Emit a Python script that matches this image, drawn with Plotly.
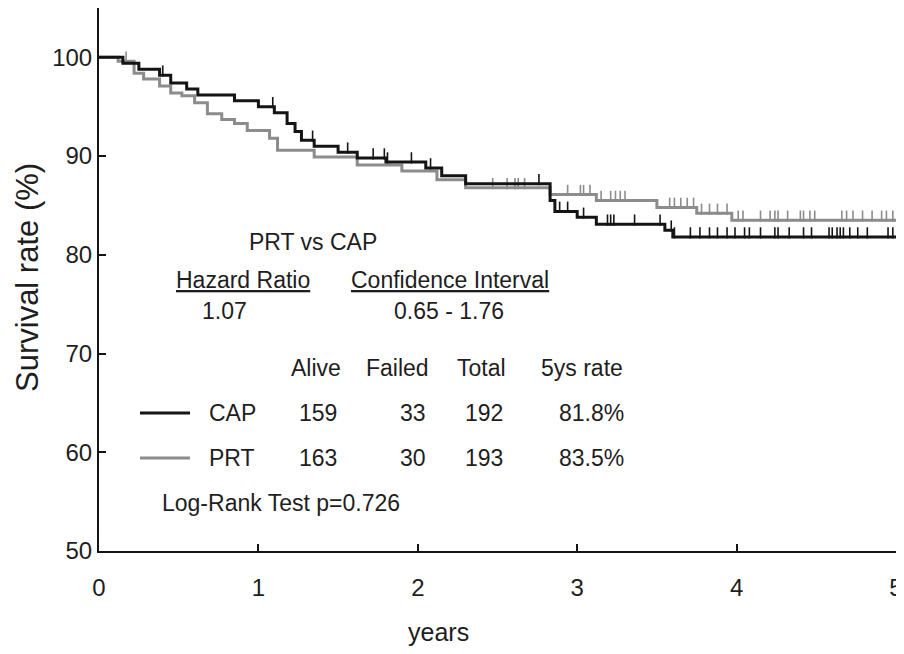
import numpy as np
import plotly.graph_objects as go

# ---------------- data ----------------
# Kaplan-Meier step curves (time in years, survival %)
cap_times = [0.00, 0.15, 0.25, 0.38, 0.45, 0.55, 0.62, 0.85, 1.00, 1.10, 1.18, 1.23, 1.27, 1.35,
             1.50, 1.62, 1.80, 2.05, 2.15, 2.30, 2.83, 2.86, 3.00, 3.12, 3.55, 3.60, 5.00]
cap_surv = [100.0, 99.4, 98.8, 98.2, 97.4, 96.8, 96.2, 95.6, 95.0, 94.4, 93.3, 92.5, 91.6, 91.0,
            90.4, 89.8, 89.4, 88.8, 88.0, 87.2, 85.5, 84.4, 83.8, 83.1, 82.5, 81.8, 81.8]

prt_times = [0.00, 0.12, 0.22, 0.28, 0.38, 0.45, 0.52, 0.60, 0.68, 0.77, 0.85, 0.93, 1.07, 1.12,
             1.35, 1.62, 1.90, 2.12, 2.30, 2.83, 3.12, 3.50, 3.75, 3.97, 5.00]
prt_surv = [100.0, 99.6, 98.4, 97.8, 97.1, 96.4, 96.1, 95.4, 94.3, 93.7, 93.3, 92.6, 91.8, 90.6,
            89.9, 89.1, 88.5, 87.6, 86.8, 86.1, 85.5, 84.8, 84.2, 83.5, 83.5]

# censoring times (years)
cap_censor = [0.40, 1.09, 1.34, 1.56, 1.72, 1.79, 1.81, 1.96, 2.08, 2.76, 2.89, 2.94, 3.04,
              3.19, 3.21, 3.23, 3.36, 3.52, 3.59, 3.61, 3.71, 3.77, 3.83, 3.88, 3.94, 3.99,
              4.05, 4.08, 4.15, 4.24, 4.26, 4.33, 4.42, 4.47, 4.58, 4.60, 4.63, 4.65, 4.67,
              4.71, 4.76, 4.82, 4.95, 4.98]
prt_censor = [0.17, 2.47, 2.56, 2.61, 2.63, 2.67, 2.94, 3.02, 3.04, 3.08, 3.15, 3.21, 3.24,
              3.27, 3.30, 3.58, 3.61, 3.65, 3.69, 3.73, 3.78, 3.83, 3.88, 3.94, 4.01, 4.04,
              4.15, 4.21, 4.24, 4.26, 4.32, 4.40, 4.42, 4.46, 4.49, 4.66, 4.69, 4.73, 4.79,
              4.85, 4.91, 4.94, 4.98]

x_ticks = [0, 1, 2, 3, 4, 5]
y_ticks = [50, 60, 70, 80, 90, 100]

# summary table
hazard_ratio = "1.07"
conf_interval = "0.65 - 1.76"
table_header = ["Alive", "Failed", "Total", "5ys rate"]
groups = ["CAP", "PRT"]
alive = [159, 163]
failed = [33, 30]
total = [192, 193]
rate5 = ["81.8%", "83.5%"]
logrank = "Log-Rank Test p=0.726"

# ---------------- styling ----------------
BLACK = "#141414"
GRAY = "#8c8c8c"
FONT = "Liberation Sans, Arial, Helvetica, sans-serif"
TXT = "#1e1e1e"

# the page body has an 8px margin, so the figure starts at (8, 8) in the window;
# keep the page from overflowing the window (no scrollbars)
OFF = 8
W, H = 904 - OFF, 654 - 2 * OFF
# plot area in window pixels: x 99..896, y 8..551
L, R, T, B = 99 - OFF, 904 - 896, 8 - OFF, (H + OFF) - 551
PW, PH = W - L - R, H - T - B


def px(x):  # window pixel -> paper x
    return (x - OFF - L) / PW


def py(y):  # window pixel -> paper y
    return (H - B - (y - OFF)) / PH


def step_value(times, surv, t):
    i = np.searchsorted(np.asarray(times), t, side="right") - 1
    return np.asarray(surv)[i]


fig = go.Figure()

for times, surv, cens, col in [(prt_times, prt_surv, prt_censor, GRAY),
                               (cap_times, cap_surv, cap_censor, BLACK)]:
    fig.add_trace(go.Scatter(x=times, y=surv, mode="lines", line_shape="hv",
                             line=dict(color=col, width=3), showlegend=False,
                             hoverinfo="skip"))
    cy = [step_value(times, surv, t) + 0.42 for t in cens]
    fig.add_trace(go.Scatter(x=cens, y=cy, mode="markers",
                             marker=dict(symbol="line-ns", size=8,
                                         line=dict(color=col, width=1.6)),
                             showlegend=False, hoverinfo="skip"))

annos = []


def txt(text, x, y, xanchor="center", size=23):
    annos.append(dict(text=text, x=px(x), y=py(y), xref="paper", yref="paper",
                      xanchor=xanchor, yanchor="middle", showarrow=False,
                      font=dict(family=FONT, size=size, color=TXT)))


txt("PRT vs CAP", 313, 242)
txt("<u>Hazard Ratio</u>", 243, 280)
txt("<u>Confidence Interval</u>", 450, 280)
txt(hazard_ratio, 224, 311)
txt(conf_interval, 449, 311)

hx = [316, 397, 481, 582]
for h, x in zip(table_header, hx):
    txt(h, x, 368)

rows_y = [413, 458]
for i, g in enumerate(groups):
    y = rows_y[i]
    txt(g, 207, y, xanchor="left")
    txt(str(alive[i]), 318, y)
    txt(str(failed[i]), 428, y, xanchor="right")
    txt(str(total[i]), 484, y)
    txt(rate5[i], 626, y, xanchor="right")

txt(logrank, 160, 503, xanchor="left")

# axis titles
annos.append(dict(text="years", x=px(438), y=py(632), xref="paper", yref="paper",
                  showarrow=False, xanchor="center", yanchor="middle",
                  font=dict(family=FONT, size=25, color=TXT)))
annos.append(dict(text="Survival rate (%)", x=px(27), y=py(278), xref="paper", yref="paper",
                  showarrow=False, xanchor="center", yanchor="middle", textangle=-90,
                  font=dict(family=FONT, size=31, color=TXT)))

shapes = []
for i, col in enumerate([BLACK, GRAY]):
    shapes.append(dict(type="line", xref="paper", yref="paper",
                       x0=px(140), x1=px(190), y0=py(rows_y[i]), y1=py(rows_y[i]),
                       line=dict(color=col, width=3)))

fig.update_layout(
    width=W, height=H,
    margin=dict(l=L, r=R, t=T, b=B, pad=0),
    paper_bgcolor="white", plot_bgcolor="white",
    annotations=annos, shapes=shapes,
    font=dict(family=FONT, color=TXT),
    xaxis=dict(range=[0, 5], tickvals=x_ticks, ticktext=[str(v) for v in x_ticks],
               ticks="inside", ticklen=7, tickwidth=2, tickcolor=BLACK,
               showline=True, linewidth=2, linecolor=BLACK, mirror=False,
               showgrid=False, zeroline=False, ticklabelstandoff=14,
               ticklabeloverflow="allow",
               tickfont=dict(family=FONT, size=24, color=TXT)),
    yaxis=dict(range=[50, 105], tickvals=y_ticks, ticktext=[str(v) for v in y_ticks],
               ticks="inside", ticklen=7, tickwidth=2, tickcolor=BLACK,
               showline=True, linewidth=2, linecolor=BLACK, mirror=False,
               showgrid=False, zeroline=False, ticklabelstandoff=0,
               tickfont=dict(family=FONT, size=24, color=TXT)),
)

fig.write_html("out.html", config={"displayModeBar": False})
